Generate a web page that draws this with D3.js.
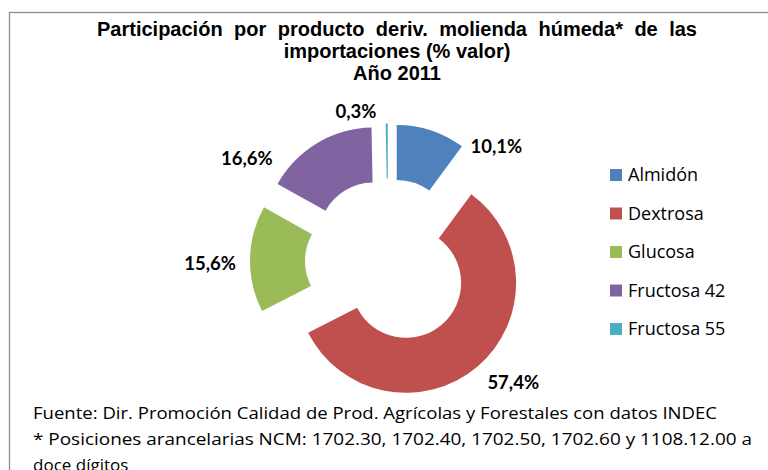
<!DOCTYPE html>
<html>
<head>
<meta charset="utf-8">
<script src="https://cdn.jsdelivr.net/npm/d3@7"></script>
<style>
  body { margin: 0; background: #fff; }
  svg { display: block; }
</style>
</head>
<body>
<div id="chart"></div>
<script>
// data
var categories = ["Almidón", "Dextrosa", "Glucosa", "Fructosa 42", "Fructosa 55"];
var shares = [10.1, 57.4, 15.6, 16.6, 0.3];
var colors = ["#4F81BD", "#C0504D", "#9BBB59", "#8064A2", "#4BACC6"];
var titleLines = ["Participación por producto deriv. molienda húmeda* de las",
                  "importaciones (% valor)", "Año 2011"];
var notes = ["Fuente: Dir. Promoción Calidad de Prod. Agrícolas y Forestales con datos INDEC",
             "* Posiciones arancelarias NCM:  1702.30, 1702.40, 1702.50, 1702.60 y 1108.12.00 a",
             "doce dígitos"];

var width = 768, height = 470;
var cx = 388, cy = 261.5;
var outerR = 110, innerR = 55, explode = 28;

// where Excel left each data label: angle (deg, clockwise from top) and distance
// measured from the exploded slice's own centre
var labelSpot = {
    "Almidón": [48.5, 133],
    "Dextrosa": [132.8, 146],
    "Glucosa": [269, 150],
    "Fructosa 42": [302, 149.5],
    "Fructosa 55": [345.4, 126]
};

var svg = d3.select("#chart").append("svg")
    .attr("width", width)
    .attr("height", height);

// chart frame (runs off the right and bottom edges)
svg.append("rect")
    .attr("x", 9.5).attr("y", 12.5)
    .attr("width", 900).attr("height", 600)
    .attr("fill", "none")
    .attr("stroke", "#8c8c8c")
    .attr("stroke-width", 1.3);

// title; the first line has wide word gaps in the original
var titleWidths = [600, null, null];
svg.selectAll("text.title")
    .data(titleLines)
    .enter().append("text")
    .attr("class", "title")
    .attr("x", 397)
    .attr("y", function (d, i) { return 36 + i * 22; })
    .attr("text-anchor", "middle")
    .style("font-family", "'Liberation Sans', Arial, sans-serif")
    .style("font-weight", "bold")
    .style("font-size", "20px")
    .text(function (d) { return d; })
    .each(function (d, i) {
        if (!titleWidths[i]) return;
        var gaps = d.split(" ").length - 1;
        var extra = titleWidths[i] - this.getComputedTextLength();
        if (extra > 0) d3.select(this).style("word-spacing", (extra / gaps) + "px");
    });

var color = d3.scaleOrdinal().domain(categories).range(colors);

var pie = d3.pie()
    .sort(null)
    .value(function (d) { return d.value; });

var arc = d3.arc()
    .innerRadius(innerR)
    .outerRadius(outerR);

var data = categories.map(function (c, i) { return {name: c, value: shares[i]}; });
var slices = pie(data);

function offset(d) {
    var a = (d.startAngle + d.endAngle) / 2;
    return [explode * Math.sin(a), -explode * Math.cos(a)];
}

var g = svg.append("g")
    .attr("transform", "translate(" + cx + "," + cy + ")");

g.selectAll("path.slice")
    .data(slices)
    .enter().append("path")
    .attr("class", "slice")
    .attr("transform", function (d) {
        var o = offset(d);
        return "translate(" + o[0] + "," + o[1] + ")";
    })
    .attr("d", arc)
    .attr("fill", function (d) { return color(d.data.name); });

var fmt = function (v) { return v.toFixed(1).replace(".", ",") + "%"; };

g.selectAll("text.lbl")
    .data(slices)
    .enter().append("text")
    .attr("class", "lbl")
    .attr("x", function (d) {
        var s = labelSpot[d.data.name], a = s[0] * Math.PI / 180;
        return offset(d)[0] + s[1] * Math.sin(a);
    })
    .attr("y", function (d) {
        var s = labelSpot[d.data.name], a = s[0] * Math.PI / 180;
        return offset(d)[1] - s[1] * Math.cos(a);
    })
    .attr("dy", "0.36em")
    .attr("text-anchor", "middle")
    .style("font-family", "Lato, 'Open Sans', sans-serif")
    .style("font-weight", "bold")
    .style("font-size", "18.5px")
    .text(function (d) { return fmt(d.data.value); });

// legend
var legend = svg.append("g")
    .attr("transform", "translate(610,169)");

var row = legend.selectAll("g")
    .data(categories)
    .enter().append("g")
    .attr("transform", function (d, i) { return "translate(0," + (i * 38.5) + ")"; });

row.append("rect")
    .attr("width", 12)
    .attr("height", 12)
    .attr("fill", function (d) { return color(d); });

row.append("text")
    .attr("x", 18)
    .attr("y", 12)
    .style("font-family", "'Open Sans', sans-serif")
    .style("font-size", "18px")
    .text(function (d) { return d; });

// source notes
var noteWidths = [684, 719, null];
svg.selectAll("text.note")
    .data(notes)
    .enter().append("text")
    .attr("class", "note")
    .attr("x", 33)
    .attr("y", function (d, i) { return 419 + i * 26; })
    .attr("textLength", function (d, i) { return noteWidths[i]; })
    .attr("lengthAdjust", "spacingAndGlyphs")
    .style("font-family", "'Open Sans', sans-serif")
    .style("font-size", "17px")
    .text(function (d) { return d; });
</script>
</body>
</html>
